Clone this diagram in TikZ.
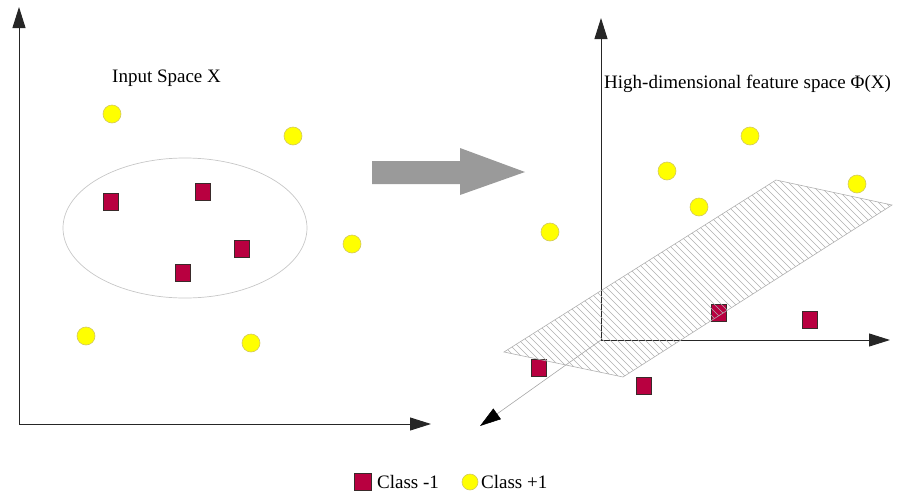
\documentclass[tikz,border=0pt]{standalone}
\usepackage{fontspec}
\setmainfont{Liberation Serif}
\usetikzlibrary{arrows.meta,shapes.geometric}
\definecolor{sqfill}{HTML}{B80040}
\definecolor{sqdraw}{HTML}{3A2A2A}
\definecolor{dotfill}{HTML}{FFFF00}
\definecolor{dotdraw}{HTML}{D2C860}
\definecolor{bigarrow}{HTML}{9A9A9A}
\definecolor{hatch}{HTML}{B0B0B0}
\tikzset{
  axis/.style={draw=black!85, line width=1pt, -{Triangle[length=21pt,width=13pt]}},
  depthaxis/.style={draw=black!35, line width=0.6pt, -{Triangle[length=21pt,width=13pt,color=black]}},
  negpt/.style={rectangle, fill=sqfill, draw=sqdraw, line width=0.8pt, minimum width=15pt, minimum height=17pt, inner sep=0pt},
  pospt/.style={circle, fill=dotfill, draw=dotdraw, line width=0.6pt, minimum size=18pt, inner sep=0pt},
  lbl/.style={font=\fontsize{19}{22}\selectfont, inner sep=0pt},
}
\begin{document}
\begin{tikzpicture}[x=1pt,y=-1pt]
\useasboundingbox (0,0) rectangle (898,496);

% ---- input space ----
\coordinate (o1) at (19,424);
\coordinate (y1) at (19,7);
\coordinate (x1) at (431,424);
\draw[axis] (o1) -- (y1);
\draw[axis] (o1) -- (x1);
\node[lbl, anchor=base west] (inlbl) at (112,82) {Input Space X};

\node[draw=black!22, line width=0.7pt, ellipse, minimum width=244pt, minimum height=140pt, inner sep=0pt] (blob) at (185,228) {};

\node[pospt] (p1) at (112,114) {};
\node[pospt] (p2) at (293,136) {};
\node[pospt] (p3) at (352,244) {};
\node[pospt] (p4) at (86,336) {};
\node[pospt] (p5) at (251,343) {};

\node[negpt] (n1) at (111,202) {};
\node[negpt] (n2) at (203,192) {};
\node[negpt] (n3) at (242,249) {};
\node[negpt] (n4) at (183,273) {};

% ---- mapping arrow ----
\fill[bigarrow] (372,161) -- (460,161) -- (460,148) -- (525,172)
  -- (460,195) -- (460,184) -- (372,184) -- cycle;

% ---- feature space ----
\coordinate (o2) at (601,340);
\coordinate (y2) at (601,18);
\coordinate (x2) at (890,340);
\coordinate (z2) at (480,426);
\draw[axis] (o2) -- (y2);
\draw[axis] (o2) -- (x2);
\draw[depthaxis] (o2) -- (z2);
\node[lbl, anchor=base west] (ftlbl) at (604,88) {High-dimensional feature space Φ(X)};

\node[pospt] (q1) at (750,136) {};
\node[pospt] (q2) at (667,171) {};
\node[pospt] (q3) at (699,207) {};
\node[pospt] (q4) at (857,184) {};
\node[pospt] (q5) at (550,232) {};

\node[negpt] (m1) at (719,313) {};
\node[negpt] (m2) at (810,320) {};
\node[negpt] (m3) at (539,368) {};
\node[negpt] (m4) at (644,386) {};

% separating hyperplane, hatched
\coordinate (hA) at (504,352);
\coordinate (hB) at (623,377);
\coordinate (hC) at (892,205);
\coordinate (hD) at (776,180);
\begin{scope}
  \clip (hA) -- (hB) -- (hC) -- (hD) -- cycle;
  \foreach \s in {280,287,...,900}
    \draw[hatch, line width=0.7pt] (\s,150) -- ++(240,240);
\end{scope}
\draw[hatch, line width=0.6pt] (hA) -- (hB) -- (hC) -- (hD) -- cycle;

% ---- legend ----
\node[negpt, minimum width=17pt, minimum height=17pt] (legneg) at (362.5,481.5) {};
\node[lbl, anchor=base west] (legnegt) at (377,488) {Class -1};
\node[pospt, minimum size=16pt] (legpos) at (470,482) {};
\node[lbl, anchor=base west] (legpost) at (481,488) {Class +1};
\end{tikzpicture}
\end{document}
